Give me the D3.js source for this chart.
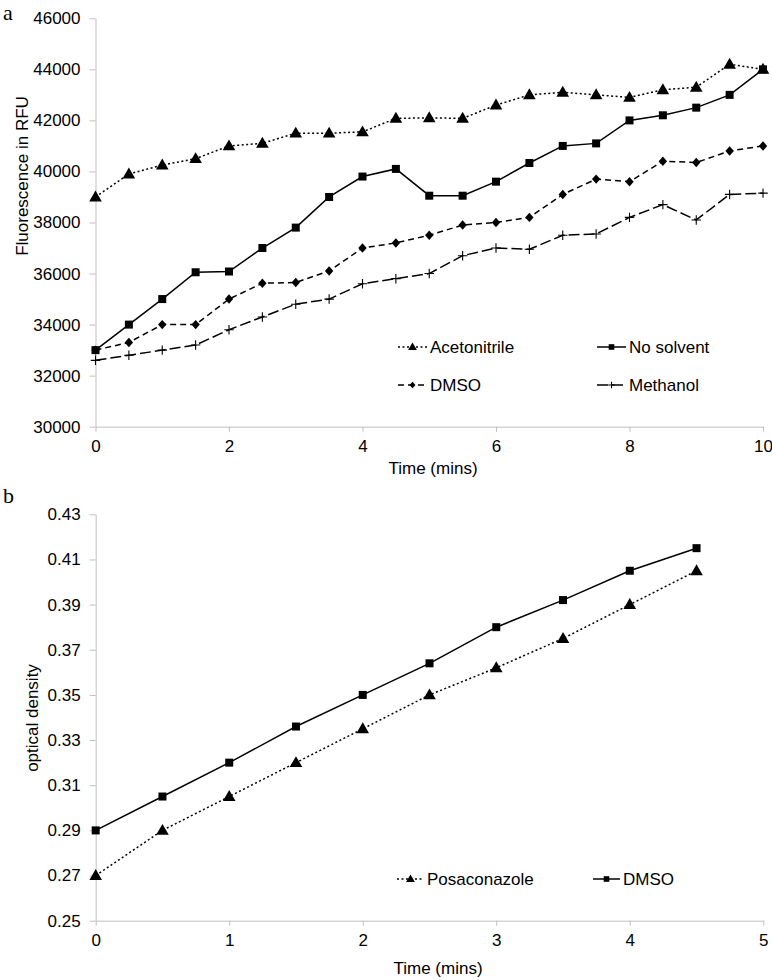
<!DOCTYPE html>
<html>
<head>
<meta charset="utf-8">
<script src="https://cdn.jsdelivr.net/npm/d3@7"></script>
<style>
  body { margin: 0; background: #fff; }
  text { font-family: "Liberation Sans", Arial, sans-serif; fill: #000; }
</style>
</head>
<body>
<script>
// chart a: fluorescence over time
var timeA = [0,0.5,1,1.5,2,2.5,3,3.5,4,4.5,5,5.5,6,6.5,7,7.5,8,8.5,9,9.5,10];
var acetonitrile = [39000,39900,40250,40500,41000,41100,41500,41500,41550,42080,42100,42080,42600,43000,43100,43000,42900,43200,43300,44200,44000];
var noSolvent = [33000,34000,35000,36050,36080,37000,37800,39000,39800,40100,39050,39050,39600,40330,41000,41100,42000,42200,42500,43000,44000];
var dmsoA = [33000,33300,34000,34000,35000,35620,35650,36100,37000,37200,37500,37900,38000,38200,39100,39700,39600,40400,40350,40800,41000];
var methanol = [32600,32800,33000,33200,33800,34300,34800,35000,35600,35800,36000,36700,37000,36950,37500,37550,38200,38700,38100,39100,39150];
var ticksYA = [30000,32000,34000,36000,38000,40000,42000,44000,46000];
var ticksXA = [0,2,4,6,8,10];

// chart b: optical density over time
var timeB = [0,0.5,1,1.5,2,2.5,3,3.5,4,4.5];
var posaconazole = [0.27,0.29,0.305,0.32,0.335,0.35,0.362,0.375,0.39,0.405];
var dmsoB = [0.29,0.305,0.32,0.336,0.35,0.364,0.38,0.392,0.405,0.415];
var ticksYB = [0.25,0.27,0.29,0.31,0.33,0.35,0.37,0.39,0.41,0.43];
var ticksXB = [0,1,2,3,4,5];

var svg = d3.select("body").append("svg")
    .attr("width", 772)
    .attr("height", 980);

// marker shapes
function marker(g, type, s) {
    if (type == "triangle") {
        g.append("path").attr("d", "M0," + (-s*0.62) + "L" + (s*0.6) + "," + (s*0.42) + "L" + (-s*0.6) + "," + (s*0.42) + "Z").attr("fill", "#000");
    } else if (type == "square") {
        g.append("rect").attr("x", -s*0.4).attr("y", -s*0.4).attr("width", s*0.8).attr("height", s*0.8).attr("fill", "#000");
    } else if (type == "diamond") {
        g.append("path").attr("d", "M0," + (-s*0.45) + "L" + (s*0.4) + ",0L0," + (s*0.45) + "L" + (-s*0.4) + ",0Z").attr("fill", "#000");
    } else if (type == "plus") {
        g.append("path").attr("d", "M" + (-s*0.45) + ",0H" + (s*0.45) + "M0," + (-s*0.45) + "V" + (s*0.45))
            .attr("stroke", "#000").attr("stroke-width", 1.1).attr("fill", "none");
    }
}

function drawChart(cfg) {
    var x = d3.scaleLinear().domain(cfg.xDomain).range(cfg.xRange);
    var y = d3.scaleLinear().domain(cfg.yDomain).range(cfg.yRange);
    var g = svg.append("g");

    var yAxis = g.append("g")
        .attr("transform", "translate(" + cfg.xRange[0] + ",0)")
        .call(d3.axisLeft(y).tickValues(cfg.yTicks).tickFormat(cfg.yFormat).tickSize(6).tickSizeOuter(0).tickPadding(9));
    var xAxis = g.append("g")
        .attr("transform", "translate(0," + cfg.yRange[0] + ")")
        .call(d3.axisBottom(x).tickValues(cfg.xTicks).tickFormat(d3.format("d")).tickSize(5).tickSizeOuter(0).tickPadding(8));
    [yAxis, xAxis].forEach(function(a) {
        a.select(".domain").attr("stroke", "#bfbfbf");
        a.selectAll(".tick line").attr("stroke", "#bfbfbf");
        a.selectAll("text").attr("font-size", 17).attr("fill", "#000")
            .style("font-family", "'Liberation Sans', Arial, sans-serif");
    });

    // axis titles
    g.append("text")
        .attr("x", cfg.xTitlePos[0]).attr("y", cfg.xTitlePos[1])
        .attr("text-anchor", "middle").attr("font-size", 17)
        .text(cfg.xTitle);
    g.append("text")
        .attr("transform", "translate(" + cfg.yTitlePos[0] + "," + cfg.yTitlePos[1] + ") rotate(-90)")
        .attr("text-anchor", "middle").attr("font-size", 17)
        .text(cfg.yTitle);

    // panel letter
    g.append("text")
        .attr("x", cfg.letterPos[0]).attr("y", cfg.letterPos[1])
        .attr("font-size", 22)
        .style("font-family", "'Liberation Serif', 'Times New Roman', serif")
        .text(cfg.letter);

    var line = d3.line()
        .x(function(d) { return x(d[0]); })
        .y(function(d) { return y(d[1]); });

    cfg.series.forEach(function(s) {
        var pts = cfg.xs.map(function(t, i) { return [t, s.values[i]]; });
        g.append("path")
            .datum(pts)
            .attr("d", line)
            .attr("fill", "none")
            .attr("stroke", "#000")
            .attr("stroke-width", 1.5)
            .attr("stroke-dasharray", s.dash);
        g.selectAll(null)
            .data(pts)
            .enter()
            .append("g")
            .attr("transform", function(d) { return "translate(" + x(d[0]) + "," + y(d[1]) + ")"; })
            .each(function() { marker(d3.select(this), s.marker, s.size); });
    });

    // legend
    cfg.series.forEach(function(s, i) {
        var p = cfg.legendPos[i];
        var lg = g.append("g").attr("transform", "translate(" + p[0] + "," + p[1] + ")");
        lg.append("line")
            .attr("x1", 0).attr("x2", cfg.sampleW)
            .attr("y1", 0).attr("y2", 0)
            .attr("stroke", "#000").attr("stroke-width", 1.5)
            .attr("stroke-dasharray", s.dash);
        var m = lg.append("g").attr("transform", "translate(" + (cfg.sampleW / 2) + ",0)");
        marker(m, s.marker, s.size * 0.7);
        lg.append("text")
            .attr("x", cfg.sampleW + 3).attr("y", 0)
            .attr("dy", "0.36em").attr("font-size", 17)
            .text(s.name);
    });
}

drawChart({
    xDomain: [0, 10], xRange: [95.5, 763],
    yDomain: [30000, 46000], yRange: [426.7, 18.3],
    xTicks: ticksXA, yTicks: ticksYA, yFormat: d3.format("d"),
    xs: timeA,
    xTitle: "Time (mins)", xTitlePos: [433, 474],
    yTitle: "Fluorescence in RFU", yTitlePos: [28, 176],
    letter: "a", letterPos: [3, 20],
    sampleW: 29,
    legendPos: [[398, 347], [597, 347], [398, 385], [597, 385]],
    series: [
        {name: "Acetonitrile", values: acetonitrile, marker: "triangle", size: 10.5, dash: "2,2.5"},
        {name: "No solvent", values: noSolvent, marker: "square", size: 10, dash: null},
        {name: "DMSO", values: dmsoA, marker: "diamond", size: 10.5, dash: "6,4"},
        {name: "Methanol", values: methanol, marker: "plus", size: 10.5, dash: "11,4"}
    ]
});

drawChart({
    xDomain: [0, 5], xRange: [95.7, 763.3],
    yDomain: [0.25, 0.43], yRange: [920.7, 514.3],
    xTicks: ticksXB, yTicks: ticksYB, yFormat: d3.format(".2f"),
    xs: timeB,
    xTitle: "Time (mins)", xTitlePos: [438, 974],
    yTitle: "optical density", yTitlePos: [38, 718],
    letter: "b", letterPos: [3, 503],
    sampleW: 27,
    legendPos: [[397, 879], [593, 879]],
    series: [
        {name: "Posaconazole", values: posaconazole, marker: "triangle", size: 10.5, dash: "2,2.5"},
        {name: "DMSO", values: dmsoB, marker: "square", size: 10, dash: null}
    ]
});
</script>
</body>
</html>
